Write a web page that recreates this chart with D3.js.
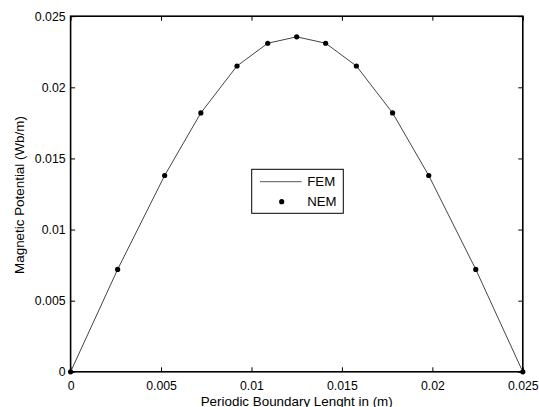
<!DOCTYPE html>
<html>
<head>
<meta charset="utf-8">
<script src="https://cdn.jsdelivr.net/npm/d3@7"></script>
<style>
  body { margin: 0; background: #fff; }
  text { font-family: "Liberation Sans", Arial, sans-serif; }
</style>
</head>
<body>
<svg id="chart" width="539" height="407"></svg>
<script>
// ---------------------------------------------------------- data
var xPos   = [0, 0.0026, 0.0052, 0.0072, 0.0092, 0.0109, 0.0125, 0.0141, 0.0158, 0.0178, 0.0198, 0.0224, 0.025];
var potFEM = [0, 0.0072, 0.0138, 0.0182, 0.0215, 0.0231, 0.02355, 0.0231, 0.0215, 0.0182, 0.0138, 0.0072, 0];
var potNEM = [0, 0.0072, 0.0138, 0.0182, 0.0215, 0.0231, 0.02355, 0.0231, 0.0215, 0.0182, 0.0138, 0.0072, 0];
var xTicks = [0, 0.005, 0.01, 0.015, 0.02, 0.025];
var yTicks = [0, 0.005, 0.01, 0.015, 0.02, 0.025];
var legendNames = ["FEM", "NEM"];

// ---------------------------------------------------------- layout
var plotL = 70.6, plotR = 522.8, plotT = 16.2, plotB = 371.8;
var svg = d3.select("#chart");

var x = d3.scaleLinear().domain([0, 0.025]).range([plotL, plotR]);
var y = d3.scaleLinear().domain([0, 0.025]).range([plotB, plotT]);
var fmt = d3.format("");

// axes, MATLAB style: ticks inside on all four sides
function axisStyle(g) {
	g.select(".domain").remove();
	g.selectAll(".tick line").attr("stroke", "#000");
	g.selectAll(".tick text").attr("font-size", 12.3).attr("fill", "#000")
		.style("font-family", "'Liberation Sans', Arial, sans-serif");
}

svg.append("g").attr("transform", "translate(0," + plotB + ")")
	.call(d3.axisBottom(x).tickValues(xTicks).tickFormat(fmt).tickSizeInner(-4.5).tickPadding(9))
	.call(axisStyle);
svg.append("g").attr("transform", "translate(0," + plotT + ")")
	.call(d3.axisTop(x).tickValues(xTicks).tickFormat("").tickSizeInner(-4.5))
	.call(axisStyle);
svg.append("g").attr("transform", "translate(" + plotL + ",0)")
	.call(d3.axisLeft(y).tickValues(yTicks).tickFormat(fmt).tickSizeInner(-4.5).tickPadding(5))
	.call(axisStyle);
svg.append("g").attr("transform", "translate(" + plotR + ",0)")
	.call(d3.axisRight(y).tickValues(yTicks).tickFormat("").tickSizeInner(-4.5))
	.call(axisStyle);

// box
svg.append("rect")
	.attr("x", plotL).attr("y", plotT)
	.attr("width", plotR - plotL).attr("height", plotB - plotT)
	.attr("fill", "none").attr("stroke", "#000").attr("stroke-width", 1.6);

// FEM line
var line = d3.line().x((d, i) => x(xPos[i])).y(d => y(d));
svg.append("path")
	.datum(potFEM)
	.attr("d", line)
	.attr("fill", "none")
	.attr("stroke", "#444")
	.attr("stroke-width", 1);

// NEM points
svg.selectAll("circle.nem").data(potNEM).enter()
	.append("circle").attr("class", "nem")
	.attr("cx", (d, i) => x(xPos[i]))
	.attr("cy", d => y(d))
	.attr("r", 2.6)
	.attr("fill", "#000");

// axis titles
svg.append("text")
	.attr("x", (plotL + plotR) / 2).attr("y", 405.5)
	.attr("text-anchor", "middle").attr("font-size", 13.4)
	.text("Periodic Boundary Lenght in (m)");
svg.append("text")
	.attr("transform", "translate(24," + 195 + ") rotate(-90)")
	.attr("text-anchor", "middle").attr("font-size", 13.4)
	.text("Magnetic Potential (Wb/m)");

// legend
var lg = svg.append("g");
lg.append("rect")
	.attr("x", 251.7).attr("y", 169.3).attr("width", 91.6).attr("height", 44)
	.attr("fill", "#fff").attr("stroke", "#000").attr("stroke-width", 1);
lg.append("line")
	.attr("x1", 260).attr("x2", 301.7).attr("y1", 181.7).attr("y2", 181.7)
	.attr("stroke", "#555").attr("stroke-width", 1);
lg.append("circle")
	.attr("cx", 281.7).attr("cy", 201.7).attr("r", 2.6).attr("fill", "#000");
lg.selectAll("text").data(legendNames).enter()
	.append("text")
	.attr("x", 307.3)
	.attr("y", (d, i) => 181.7 + i * 20)
	.attr("dy", "0.35em")
	.attr("font-size", 13.2)
	.text(d => d);
</script>
</body>
</html>
